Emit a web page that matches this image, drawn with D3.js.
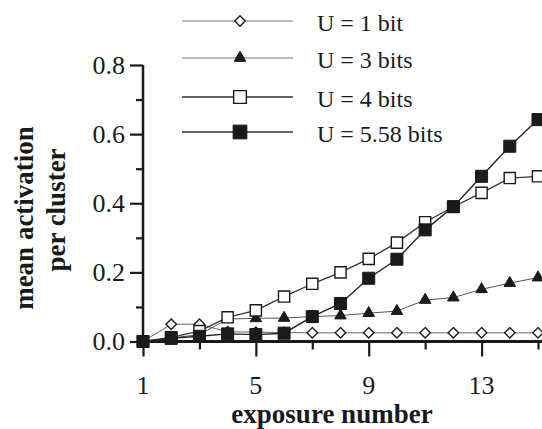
<!DOCTYPE html>
<html>
<head>
<meta charset="utf-8">
<script src="https://cdn.jsdelivr.net/npm/d3@7"></script>
<style>
  html, body { margin: 0; padding: 0; background: #fff; }
  svg { display: block; }
  text { font-family: "Liberation Serif", "Times New Roman", serif; fill: #1a1a1a; }
</style>
</head>
<body>
<svg id="chart" width="542" height="429"></svg>
<script>
// ---- data ----
const exposures = [1, 2, 3, 4, 5, 6, 7, 8, 9, 10, 11, 12, 13, 14, 15];
const u1Values = [0, 0.05, 0.05, 0.028, 0.027, 0.026, 0.025, 0.025, 0.025, 0.025, 0.025, 0.025, 0.025, 0.025, 0.025];
const u3Values = [0, 0.01, 0.02, 0.065, 0.067, 0.068, 0.072, 0.075, 0.082, 0.088, 0.12, 0.127, 0.151, 0.169, 0.185];
const u4Values = [0, 0.012, 0.03, 0.07, 0.09, 0.13, 0.167, 0.2, 0.239, 0.286, 0.345, 0.39, 0.43, 0.473, 0.478];
const u558Values = [0, 0.009, 0.015, 0.022, 0.02, 0.024, 0.072, 0.11, 0.183, 0.238, 0.323, 0.39, 0.478, 0.565, 0.642];
const seriesNames = ["U = 1 bit", "U = 3 bits", "U = 4 bits", "U = 5.58 bits"];
const xTickLabels = [1, 5, 9, 13];
const xMinorTicks = [3, 7, 11, 15];
const yTickLabels = [0.0, 0.2, 0.4, 0.6, 0.8];
const yMinorTicks = [0.1, 0.3, 0.5, 0.7];

const svg = d3.select("#chart");
const x = d3.scaleLinear().domain([1, 15]).range([143, 538]);
const y = d3.scaleLinear().domain([0, 0.8]).range([341.5, 65]);

const ink = "#1a1a1a";

// wide diamond symbol (square rotated 45deg)
const wideDiamond = {
  draw(context, size) {
    const r = Math.sqrt(size / 2);
    context.moveTo(0, -r);
    context.lineTo(r, 0);
    context.lineTo(0, r);
    context.lineTo(-r, 0);
    context.closePath();
  }
};

const series = [
  { name: seriesNames[0], values: u1Values, symbol: wideDiamond, size: 55, fill: "#fff", lw: 1, lineColor: "#666", sw: 1.4 },
  { name: seriesNames[1], values: u3Values, symbol: d3.symbolTriangle, size: 58, fill: ink, lw: 1, lineColor: "#555", sw: 1 },
  { name: seriesNames[2], values: u4Values, symbol: d3.symbolSquare, size: 125, fill: "#fff", lw: 1.3, lineColor: "#333", sw: 1.4 },
  { name: seriesNames[3], values: u558Values, symbol: d3.symbolSquare, size: 145, fill: ink, lw: 1.4, lineColor: "#222", sw: 1 }
];

// ---- axes (ticks via d3 axes, labels as plain text from the same scales) ----
const yAxis = d3.axisLeft(y).tickValues(yTickLabels).tickSize(13).tickSizeOuter(0).tickFormat("");
const gy = svg.append("g").attr("transform", "translate(143,0)").call(yAxis);
const yMinor = d3.axisLeft(y).tickValues(yMinorTicks).tickSize(7).tickSizeOuter(0).tickFormat("");
const gym = svg.append("g").attr("transform", "translate(143,0)").call(yMinor);

const xAxis = d3.axisBottom(x).tickValues(xTickLabels).tickSize(15).tickSizeOuter(0).tickFormat("");
const gx = svg.append("g").attr("transform", "translate(0,341.5)").call(xAxis);
const xMinor = d3.axisBottom(x).tickValues(xMinorTicks).tickSize(8).tickSizeOuter(0).tickFormat("");
const gxm = svg.append("g").attr("transform", "translate(0,341.5)").call(xMinor);

[gy, gym, gx, gxm].forEach(g => {
  g.select(".domain").remove();
  g.selectAll(".tick line").attr("stroke", ink).attr("stroke-width", 2.2);
});

const fmtY = d3.format(".1f");
svg.append("g").selectAll("text").data(yTickLabels).join("text")
  .attr("x", 125).attr("y", d => y(d)).attr("dy", "0.34em").attr("text-anchor", "end")
  .style("font-size", "26px").text(d => fmtY(d));
svg.append("g").selectAll("text").data(xTickLabels).join("text")
  .attr("x", d => x(d)).attr("y", 394).attr("text-anchor", "middle")
  .style("font-size", "26px").text(d => d);

// axis lines
svg.append("line").attr("x1", x(1)).attr("x2", 542).attr("y1", y(0)).attr("y2", y(0))
  .attr("stroke", ink).attr("stroke-width", 3);
svg.append("line").attr("x1", x(1)).attr("x2", x(1)).attr("y1", y(0)).attr("y2", y(0.8))
  .attr("stroke", ink).attr("stroke-width", 2.5);

// ---- series ----
series.forEach(s => {
  const line = d3.line().x((d, i) => x(exposures[i])).y(d => y(d));
  svg.append("path").datum(s.values).attr("d", line).attr("fill", "none")
    .attr("stroke", s.lineColor).attr("stroke-width", s.lw);
});
series.forEach(s => {
  svg.append("g").selectAll("path").data(s.values).join("path")
    .attr("transform", (d, i) => `translate(${x(exposures[i])},${y(d)})`)
    .attr("d", d3.symbol().type(s.symbol).size(s.size))
    .attr("fill", s.fill).attr("stroke", ink).attr("stroke-width", s.sw);
});

// ---- legend ----
const legendRows = [21, 58, 97, 132];
series.forEach((s, i) => {
  const g = svg.append("g").attr("transform", `translate(0,${legendRows[i]})`);
  g.append("line").attr("x1", 182).attr("x2", 293).attr("y1", 0).attr("y2", 0)
    .attr("stroke", i < 2 ? "#777" : "#333").attr("stroke-width", i < 2 ? 1 : 1.6);
  g.append("path").attr("transform", "translate(240,0)")
    .attr("d", d3.symbol().type(s.symbol).size(i < 2 ? s.size : s.size * 1.3))
    .attr("fill", s.fill).attr("stroke", ink).attr("stroke-width", s.sw);
  g.append("text").attr("x", 317).attr("y", 10).style("font-size", "24px").text(s.name);
});

// ---- titles ----
svg.append("text").attr("x", 332).attr("y", 423).attr("text-anchor", "middle")
  .style("font-size", "27px").style("font-weight", "bold").text("exposure number");
svg.append("text").attr("transform", "translate(33,218) rotate(-90)").attr("text-anchor", "middle")
  .style("font-size", "27px").style("font-weight", "bold").text("mean activation");
svg.append("text").attr("transform", "translate(65,210) rotate(-90)").attr("text-anchor", "middle")
  .style("font-size", "27px").style("font-weight", "bold").text("per cluster");
</script>
</body>
</html>
